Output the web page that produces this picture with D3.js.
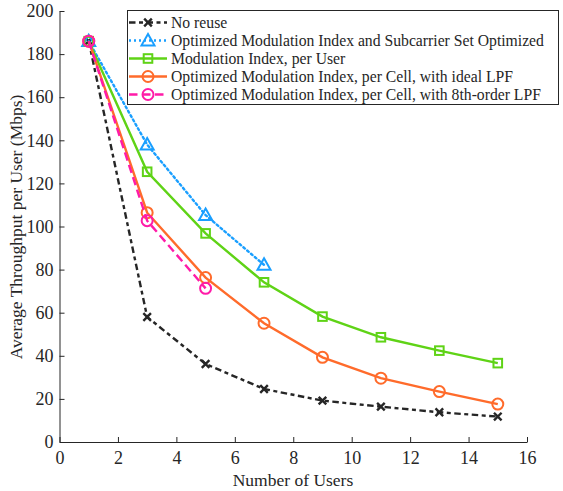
<!DOCTYPE html>
<html><head><meta charset="utf-8">
<script src="https://cdn.jsdelivr.net/npm/d3@7"></script>
<style>body{margin:0;background:#fff}svg{display:block}text{font-family:"Liberation Serif","Times New Roman",serif;fill:#262626}</style>
</head><body>
<script>
const noReuseX = [1,3,5,7,9,11,13,15];
const noReuse = [186,58,36.2,24.6,19.2,16.4,13.8,11.8];
const subcarrierX = [1,3,5,7];
const subcarrier = [186,138,105.3,82.2];
const perUserX = [1,3,5,7,9,11,13,15];
const perUser = [186,125.4,96.8,74.1,58.2,48.6,42.4,36.6];
const idealX = [1,3,5,7,9,11,13,15];
const ideal = [186,106.4,76.3,55.1,39.3,29.6,23.4,17.6];
const lpf8X = [1,3,5];
const lpf8 = [186,102.7,71.3];
const xTicks = [0,2,4,6,8,10,12,14,16];
const yTicks = [0,20,40,60,80,100,120,140,160,180,200];
const seriesNames = ["No reuse","Optimized Modulation Index and Subcarrier Set Optimized","Modulation Index, per User","Optimized Modulation Index, per Cell, with ideal LPF","Optimized Modulation Index, per Cell, with 8th-order LPF"];

const W=563,H=491;
const FONT="'Liberation Serif','Times New Roman',serif";
const svg=d3.select("body").append("svg").attr("width",W).attr("height",H);
const x=d3.scaleLinear().domain([0,16]).range([59.5,527]);
const y=d3.scaleLinear().domain([0,200]).range([442,11]);

const series=[
 {name:seriesNames[0],xs:noReuseX,ys:noReuse,color:"#262626",dash:"6.5,3.5,4,3.5",marker:"x"},
 {name:seriesNames[1],xs:subcarrierX,ys:subcarrier,color:"#1a9fff",dash:"2,3",marker:"tri"},
 {name:seriesNames[2],xs:perUserX,ys:perUser,color:"#5fd316",dash:null,marker:"sq"},
 {name:seriesNames[3],xs:idealX,ys:ideal,color:"#ff6b2b",dash:null,marker:"circ"},
 {name:seriesNames[4],xs:lpf8X,ys:lpf8,color:"#ff1ba8",dash:"8.5,4.5",marker:"circ"}
];

// axes
const gx=svg.append("g").attr("transform","translate(0,442)")
 .call(d3.axisBottom(x).tickValues(xTicks).tickSizeInner(-5).tickSizeOuter(0).tickPadding(9));
const gy=svg.append("g").attr("transform","translate(59.5,0)")
 .call(d3.axisLeft(y).tickValues(yTicks).tickSizeInner(-5).tickSizeOuter(0).tickPadding(6));
[gx,gy].forEach(g=>{g.attr("font-family",FONT);g.select(".domain").attr("stroke","#262626");g.selectAll(".tick line").attr("stroke","#262626");
 g.selectAll(".tick text").style("font-size","18px").attr("fill","#262626").style("font-family",FONT);});

svg.append("text").attr("x",293).attr("y",486).attr("text-anchor","middle").style("font-size","17.5px").style("font-family",FONT).text("Number of Users");
svg.append("text").attr("transform","translate(22,227) rotate(-90)").attr("text-anchor","middle").style("font-size","17.5px").style("font-family",FONT).text("Average Throughput per User (Mbps)");

function drawMarker(g,type,cx,cy,color){
 if(type==="x"){
  const s=3.8;
  g.append("path").attr("d",`M${cx-s},${cy-s}L${cx+s},${cy+s}M${cx-s},${cy+s}L${cx+s},${cy-s}`).attr("stroke",color).attr("stroke-width",2.4).attr("fill","none");
 } else if(type==="tri"){
  const s=6.5;
  g.append("path").attr("d",`M${cx},${cy-s}L${cx+s},${cy+s*0.75}L${cx-s},${cy+s*0.75}Z`).attr("stroke",color).attr("stroke-width",2).attr("fill","none");
 } else if(type==="sq"){
  const s=4.3;
  g.append("rect").attr("x",cx-s).attr("y",cy-s).attr("width",2*s).attr("height",2*s).attr("stroke",color).attr("stroke-width",2).attr("fill","none");
 } else {
  g.append("circle").attr("cx",cx).attr("cy",cy).attr("r",5.5).attr("stroke",color).attr("stroke-width",2).attr("fill","none");
 }
}

const line=d3.line().x(d=>x(d[0])).y(d=>y(d[1]));
series.forEach(s=>{
 const pts=s.xs.map((v,i)=>[v,s.ys[i]]);
 const g=svg.append("g");
 g.append("path").attr("d",line(pts)).attr("fill","none").attr("stroke",s.color).attr("stroke-width",2.4)
  .attr("stroke-dasharray",s.dash).attr("stroke-linecap",s.marker==="tri"?"round":"butt");
 pts.forEach(p=>drawMarker(g,s.marker,x(p[0]),y(p[1]),s.color));
});

// legend
const lg=svg.append("g");
lg.append("rect").attr("x",127.5).attr("y",10.5).attr("width",431).attr("height",94).attr("fill","#fff").attr("stroke","#262626").attr("stroke-width",1);
series.forEach((s,i)=>{
 const cy=22.5+i*18;
 lg.append("line").attr("x1",129).attr("x2",167).attr("y1",cy).attr("y2",cy).attr("stroke",s.color).attr("stroke-width",2.4).attr("stroke-dasharray",s.dash);
 drawMarker(lg,s.marker,148,cy,s.color);
 lg.append("text").attr("x",171).attr("y",cy+5).style("font-size","15.7px").style("font-family",FONT).text(s.name);
});
</script>
</body></html>
